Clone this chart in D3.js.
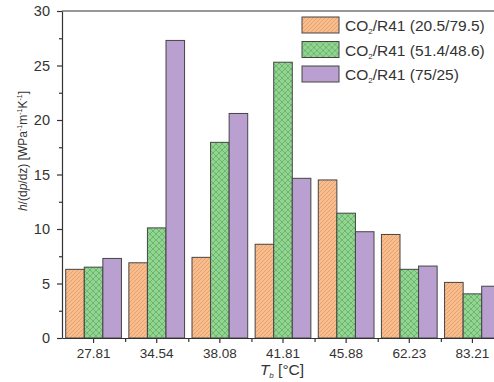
<!doctype html>
<html>
<head>
<style>
  body { margin: 0; background: #fff; }
  text { font-family: "Liberation Sans", Arial, sans-serif; fill: #333; }
</style>
<script src="https://d3js.org/d3.v7.min.js"></script>
</head>
<body>
<svg width="494" height="382"></svg>
<script>
var categories = ["27.81", "34.54", "38.08", "41.81", "45.88", "62.23", "83.21"];
var seriesNames = ["CO2/R41 (20.5/79.5)", "CO2/R41 (51.4/48.6)", "CO2/R41 (75/25)"];
var series1 = [6.3, 6.9, 7.4, 8.6, 14.5, 9.5, 5.1];
var series2 = [6.5, 10.1, 17.95, 25.3, 11.45, 6.3, 4.05];
var series3 = [7.3, 27.3, 20.6, 14.65, 9.75, 6.6, 4.75];
var yTicks = [0, 5, 10, 15, 20, 25, 30];

var svg = d3.select("svg");
var plotL = 62, plotR = 504, plotT = 11, plotB = 338;

var defs = svg.append("defs");
// orange diagonal hatch
var p1 = defs.append("pattern").attr("id", "hatch1").attr("patternUnits", "userSpaceOnUse")
  .attr("width", 4).attr("height", 4);
p1.append("rect").attr("width", 4).attr("height", 4).attr("fill", "#f8bd8f");
p1.append("path").attr("d", "M-1,5 L5,-1 M-1,1 L1,-1 M3,5 L5,3").attr("stroke", "#e59a62").attr("stroke-width", 0.8);
// green cross hatch
var p2 = defs.append("pattern").attr("id", "hatch2").attr("patternUnits", "userSpaceOnUse")
  .attr("width", 6).attr("height", 6);
p2.append("rect").attr("width", 6).attr("height", 6).attr("fill", "#92d492");
p2.append("path").attr("d", "M0,0 L6,6 M6,0 L0,6").attr("stroke", "#5ea95e").attr("stroke-width", 0.7);
var fills = ["url(#hatch1)", "url(#hatch2)", "#b9a0d0"];

var x = d3.scaleBand().domain(categories).range([plotL, plotR]);
var xs = d3.scaleBand().domain([0, 1, 2]).range([0, x.bandwidth()]).paddingOuter(0.2);
var y = d3.scaleLinear().domain([0, 30]).range([plotB, plotT]);

var data = [series1, series2, series3];

// bars
data.forEach(function(vals, s) {
  svg.append("g").selectAll("rect")
    .data(vals)
    .enter().append("rect")
    .attr("x", function(d, i) { return x(categories[i]) + xs(s); })
    .attr("y", function(d) { return y(d); })
    .attr("width", xs.bandwidth())
    .attr("height", function(d) { return y(0) - y(d); })
    .attr("fill", fills[s])
    .attr("stroke", "#444")
    .attr("stroke-width", 1);
});

// y axis
var yAxis = svg.append("g").attr("transform", "translate(" + plotL + ",0)")
  .call(d3.axisLeft(y).tickValues(yTicks).tickSize(5).tickSizeOuter(0));
yAxis.selectAll("text").attr("font-size", 14.5).attr("fill", "#333").attr("dx", "-4");
svg.append("g").attr("transform", "translate(" + plotL + ",0)")
  .call(d3.axisLeft(y).tickValues(d3.range(2.5, 30, 5)).tickSize(3).tickFormat(""))
  .select(".domain").remove();

// x axis
var xAxis = svg.append("g").attr("transform", "translate(0," + plotB + ")")
  .call(d3.axisBottom(x).tickSize(5).tickSizeOuter(0));
xAxis.selectAll("text").attr("font-size", 13.5).attr("fill", "#333").attr("dy", "0.9em");
svg.append("g").attr("transform", "translate(0," + plotB + ")")
  .call(d3.axisBottom(d3.scaleLinear().domain([0, 7]).range([plotL, plotR]))
    .tickValues(d3.range(1, 7)).tickSize(4).tickFormat(""))
  .select(".domain").remove();

svg.selectAll(".domain, .tick line").attr("stroke", "#333").attr("stroke-width", 1.2);

// top frame
svg.append("line").attr("x1", plotL).attr("x2", plotR).attr("y1", plotT).attr("y2", plotT)
  .attr("stroke", "#333").attr("stroke-width", 1.2);

// axis titles
var xt = svg.append("text").attr("x", 282).attr("y", 375).attr("text-anchor", "middle").attr("font-size", 15.5);
xt.append("tspan").attr("font-style", "italic").text("T");
xt.append("tspan").attr("font-size", 8).attr("dy", 3).attr("font-style", "italic").text("b");
xt.append("tspan").attr("dy", -3).text(" [°C]");

var yt = svg.append("text").attr("transform", "translate(27,151) rotate(-90)")
  .attr("text-anchor", "middle").attr("font-size", 12);
yt.append("tspan").attr("font-style", "italic").text("h");
yt.append("tspan").text("/(d");
yt.append("tspan").attr("font-style", "italic").text("p");
yt.append("tspan").text("/dz) [WPa");
yt.append("tspan").attr("font-size", 7).attr("dy", -5).text("-1");
yt.append("tspan").attr("dy", 5).text("m");
yt.append("tspan").attr("font-size", 7).attr("dy", -5).text("-1");
yt.append("tspan").attr("dy", 5).text("K");
yt.append("tspan").attr("font-size", 7).attr("dy", -5).text("-1");
yt.append("tspan").attr("dy", 5).text("]");

// legend
var lg = svg.append("g").selectAll("g").data(seriesNames).enter().append("g")
  .attr("transform", function(d, i) { return "translate(302," + (17 + i * 24.5) + ")"; });
lg.append("rect").attr("width", 37).attr("height", 16)
  .attr("fill", function(d, i) { return fills[i]; }).attr("stroke", "#444");
var lt = lg.append("text").attr("x", 43).attr("y", 14).attr("font-size", 15.5);
lt.append("tspan").text("CO");
lt.append("tspan").attr("font-size", 8).attr("dy", 3).text("2");
lt.append("tspan").attr("dy", -3).text(function(d) { return d.slice(3); });
</script>
</body>
</html>
